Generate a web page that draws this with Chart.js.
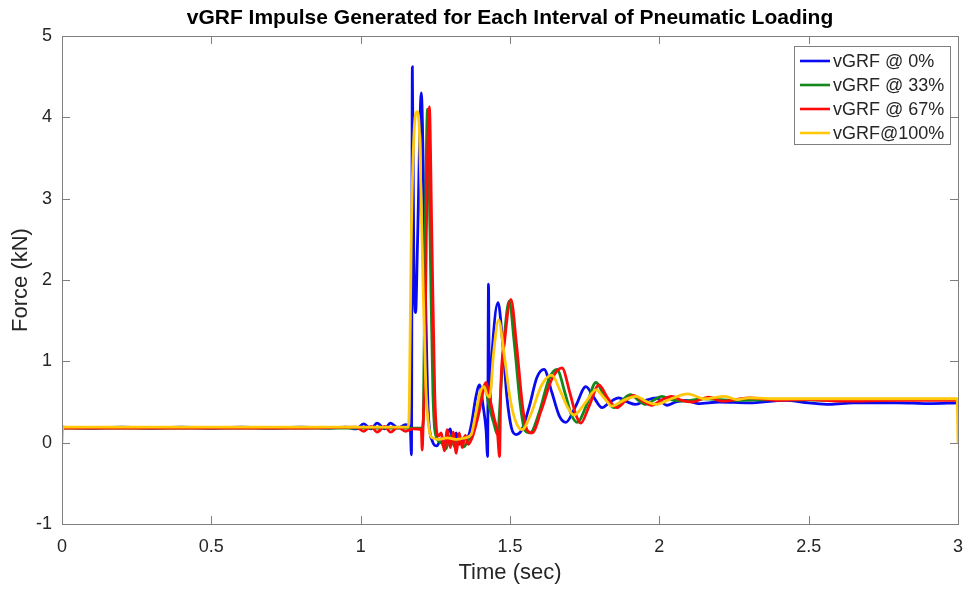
<!DOCTYPE html>
<html>
<head>
<meta charset="utf-8">
<script src="https://cdn.jsdelivr.net/npm/chart.js@4.4.1/dist/chart.umd.min.js"></script>
<style>
  html, body { margin: 0; padding: 0; background: #ffffff; }
  #wrap { width: 969px; height: 589px; }
</style>
</head>
<body>
<div id="wrap"><canvas id="c" width="969" height="589"></canvas></div>
<script>
// ---------- data ----------
const chartTitle = 'vGRF Impulse Generated for Each Interval of Pneumatic Loading';
const xTitle = 'Time (sec)';
const yTitle = 'Force (kN)';
const seriesNames = ['vGRF @ 0%', 'vGRF @ 33%', 'vGRF @ 67%', 'vGRF@100%'];
const xTicks = [0, 0.5, 1, 1.5, 2, 2.5, 3];
const yTicks = [-1, 0, 1, 2, 3, 4, 5];

const time0 = [0.000,0.100,0.200,0.300,0.400,0.500,0.600,0.700,0.800,0.900,0.950,0.985,1.010,1.035,1.055,1.080,1.100,1.125,1.150,1.166,1.170,1.173,1.178,1.184,1.190,1.203,1.214,1.226,1.240,1.255,1.270,1.280,1.290,1.300,1.310,1.320,1.330,1.345,1.360,1.372,1.385,1.398,1.410,1.420,1.425,1.428,1.431,1.440,1.460,1.475,1.490,1.505,1.520,1.540,1.565,1.590,1.614,1.640,1.665,1.687,1.720,1.754,1.780,1.808,1.835,1.864,1.893,1.921,1.955,1.990,2.025,2.055,2.090,2.130,2.200,2.300,2.420,2.500,2.570,2.650,2.800,2.900,3.000];
const force0 = [0.19,0.18,0.19,0.18,0.19,0.18,0.19,0.18,0.19,0.18,0.19,0.17,0.23,0.17,0.24,0.17,0.24,0.18,0.22,0.19,-0.15,4.62,2.2,1.6,2.4,4.30,2.4,0.4,0.02,-0.04,0.05,-0.03,0.10,0.17,0.00,0.12,-0.02,0.06,0.08,0.25,0.55,0.71,0.45,0.15,-0.17,1.95,0.4,1.1,1.72,1.25,0.55,0.18,0.10,0.16,0.45,0.80,0.90,0.62,0.33,0.25,0.45,0.69,0.56,0.43,0.50,0.55,0.50,0.47,0.52,0.55,0.46,0.50,0.52,0.48,0.50,0.49,0.52,0.49,0.47,0.49,0.49,0.48,0.49];

const time33 = [0.000,0.200,0.400,0.600,0.800,1.000,1.100,1.205,1.210,1.216,1.224,1.232,1.242,1.255,1.270,1.285,1.300,1.315,1.330,1.345,1.360,1.375,1.395,1.415,1.430,1.445,1.458,1.470,1.480,1.497,1.515,1.535,1.550,1.567,1.600,1.630,1.657,1.685,1.705,1.725,1.755,1.788,1.815,1.848,1.875,1.904,1.930,1.955,1.980,2.008,2.040,2.080,2.150,2.250,2.400,2.600,2.800,3.000];
const force33 = [0.18,0.18,0.18,0.18,0.18,0.18,0.18,0.18,0.3,2.5,4.10,2.6,0.6,0.05,0.00,-0.08,0.08,-0.05,0.05,-0.05,0.03,0.10,0.45,0.70,0.45,0.25,0.10,0.7,1.25,1.74,1.2,0.45,0.15,0.12,0.40,0.78,0.90,0.6,0.35,0.25,0.45,0.74,0.58,0.43,0.52,0.59,0.52,0.47,0.52,0.57,0.53,0.51,0.54,0.52,0.53,0.52,0.53,0.53];

const time67 = [0.000,0.005,0.200,0.400,0.600,0.800,0.985,1.010,1.035,1.055,1.080,1.100,1.125,1.150,1.175,1.203,1.206,1.209,1.214,1.220,1.230,1.238,1.248,1.260,1.270,1.280,1.290,1.300,1.310,1.320,1.330,1.340,1.350,1.360,1.375,1.395,1.420,1.432,1.447,1.458,1.465,1.469,1.482,1.503,1.522,1.542,1.558,1.574,1.605,1.640,1.674,1.700,1.720,1.737,1.765,1.798,1.825,1.858,1.885,1.914,1.945,1.975,2.005,2.041,2.075,2.110,2.165,2.210,2.300,2.400,2.500,2.600,2.800,3.000];
const force67 = [0.20,0.18,0.18,0.18,0.18,0.18,0.19,0.14,0.20,0.13,0.20,0.13,0.19,0.14,0.17,0.16,-0.09,0.2,0.8,2.6,4.13,2.6,0.6,0.08,0.12,-0.10,0.16,-0.06,0.13,-0.13,0.12,-0.06,0.09,-0.02,0.08,0.35,0.74,0.55,0.30,0.12,-0.17,0.65,1.25,1.76,1.2,0.45,0.15,0.12,0.40,0.78,0.92,0.62,0.35,0.24,0.45,0.71,0.56,0.43,0.51,0.58,0.51,0.46,0.52,0.57,0.52,0.50,0.56,0.51,0.55,0.52,0.53,0.51,0.52,0.52];

const time100 = [0.000,0.003,0.200,0.400,0.600,0.800,1.000,1.159,1.163,1.169,1.180,1.189,1.197,1.206,1.218,1.230,1.240,1.260,1.290,1.320,1.350,1.370,1.385,1.400,1.413,1.422,1.432,1.445,1.462,1.480,1.500,1.520,1.540,1.570,1.605,1.640,1.670,1.695,1.714,1.750,1.788,1.815,1.841,1.880,1.921,1.955,1.988,2.040,2.095,2.150,2.220,2.260,2.300,2.400,2.500,2.700,2.900,2.997,3.000];
const force100 = [0.00,0.19,0.19,0.19,0.19,0.19,0.19,0.19,0.5,2.4,3.9,4.07,3.8,2.4,0.7,0.15,0.06,0.04,0.06,0.04,0.06,0.10,0.35,0.62,0.69,0.60,0.56,1.1,1.51,1.1,0.55,0.25,0.16,0.35,0.70,0.83,0.62,0.42,0.34,0.48,0.65,0.55,0.45,0.52,0.57,0.51,0.47,0.54,0.60,0.54,0.57,0.53,0.55,0.54,0.54,0.54,0.54,0.54,0.00];

const seriesColors = ['#0a0af0', '#12891a', '#ff0a0a', '#ffc80a'];

// ---------- build ----------
function pts(ts, fs) { return ts.map((t, i) => ({ x: t, y: fs[i] })); }
const allSeries = [pts(time0, force0), pts(time33, force33), pts(time67, force67), pts(time100, force100)];

const FONT = '"Liberation Sans", Arial, Helvetica, sans-serif';
const AXIS_COLOR = '#7f7f7f';
const TEXT_COLOR = '#262626';

const boxAndTicks = {
  id: 'boxAndTicks',
  afterDatasetsDraw(chart) {
    const { ctx, chartArea: a, scales: { x, y } } = chart;
    ctx.save();
    ctx.strokeStyle = AXIS_COLOR;
    ctx.lineWidth = 1;
    ctx.beginPath();
    ctx.rect(Math.round(a.left) + 0.5, Math.round(a.top) + 0.5, Math.round(a.right - a.left), Math.round(a.bottom - a.top));
    const L = 8;
    xTicks.forEach(v => {
      const px = Math.round(x.getPixelForValue(v)) + 0.5;
      ctx.moveTo(px, a.bottom); ctx.lineTo(px, a.bottom - L);
      ctx.moveTo(px, a.top); ctx.lineTo(px, a.top + L);
    });
    yTicks.forEach(v => {
      const py = Math.round(y.getPixelForValue(v)) + 0.5;
      ctx.moveTo(a.left, py); ctx.lineTo(a.left + L, py);
      ctx.moveTo(a.right, py); ctx.lineTo(a.right - L, py);
    });
    ctx.stroke();

    // legend box (top-right, inside axes)
    const bx = 794.5, by = 46.5, bw = 156, bh = 98;
    ctx.fillStyle = '#ffffff';
    ctx.fillRect(bx, by, bw, bh);
    ctx.strokeRect(bx, by, bw, bh);
    ctx.font = '18px ' + FONT;
    ctx.textBaseline = 'middle';
    ctx.textAlign = 'left';
    seriesNames.forEach((name, i) => {
      const yy = 61 + i * 24;
      ctx.strokeStyle = seriesColors[i];
      ctx.lineWidth = 2.6;
      ctx.beginPath();
      ctx.moveTo(800, yy); ctx.lineTo(830, yy);
      ctx.stroke();
      ctx.fillStyle = TEXT_COLOR;
      ctx.fillText(name, 833, yy + 1);
    });
    ctx.restore();
  }
};

new Chart(document.getElementById('c'), {
  type: 'line',
  data: {
    datasets: allSeries.map((d, i) => ({
      label: seriesNames[i],
      data: d,
      borderColor: seriesColors[i],
      backgroundColor: seriesColors[i],
      borderWidth: 2.8,
      pointRadius: 0,
      fill: false,
      cubicInterpolationMode: 'monotone',
      order: 3 - i
    }))
  },
  options: {
    responsive: false,
    animation: false,
    events: [],
    layout: { padding: { left: 0, right: 11, top: 0, bottom: 0 } },
    plugins: {
      legend: { display: false },
      tooltip: { enabled: false },
      title: {
        display: true,
        fullSize: false,
        text: chartTitle,
        color: '#000000',
        font: { family: FONT, size: 21, weight: 'bold', lineHeight: 1.2 },
        padding: { top: 5.5, bottom: 5.3 }
      }
    },
    scales: {
      x: {
        type: 'linear',
        min: 0, max: 3,
        afterBuildTicks: s => { s.ticks = xTicks.map(v => ({ value: v })); },
        afterFit: s => { s.height = 65; s.paddingRight = 0; s.paddingLeft = 0; },
        grid: { display: false, drawTicks: false },
        border: { display: true, color: AXIS_COLOR },
        ticks: { color: TEXT_COLOR, padding: 12, maxRotation: 0, font: { family: FONT, size: 18 }, callback: v => String(v) },
        title: { display: true, text: xTitle, color: TEXT_COLOR, font: { family: FONT, size: 22, lineHeight: 1.2 }, padding: { top: 0, bottom: 3 } }
      },
      y: {
        type: 'linear',
        min: -1, max: 5,
        afterBuildTicks: s => { s.ticks = yTicks.map(v => ({ value: v })); },
        afterFit: s => { s.width = 62; s.paddingTop = 0; s.paddingBottom = 0; },
        grid: { display: false, drawTicks: false },
        border: { display: true, color: AXIS_COLOR },
        ticks: { color: TEXT_COLOR, padding: 10, font: { family: FONT, size: 18 }, callback: v => String(v) },
        title: { display: true, text: yTitle, color: TEXT_COLOR, font: { family: FONT, size: 22, lineHeight: 1.2 }, padding: { top: 8, bottom: 0 } }
      }
    }
  },
  plugins: [boxAndTicks]
});
</script>
</body>
</html>
